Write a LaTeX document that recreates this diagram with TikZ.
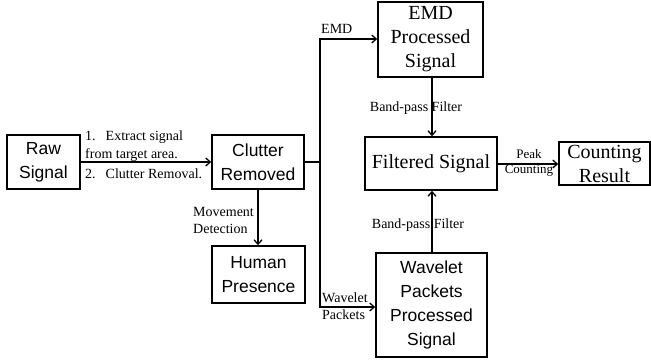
\documentclass[tikz,border=0pt]{standalone}
\usepackage{fontspec}
\setmainfont{Liberation Serif}
\newfontfamily\boxsans{Liberation Sans}
\usetikzlibrary{arrows.meta}
\tikzset{
  blk/.style={draw, line width=1.6pt, align=center, inner sep=0pt},
  sansblk/.style={blk, font=\boxsans\fontsize{17.5}{24}\selectfont},
  serifblk/.style={blk, font=\fontsize{20}{24}\selectfont},
  lbl/.style={inner sep=0pt, font=\fontsize{14}{16}\selectfont},
  smalllbl/.style={inner sep=0pt, font=\fontsize{13}{15}\selectfont},
  flow/.style={line width=1.5pt, -{Straight Barb[length=4.5pt,width=8pt,line width=1.3pt]}},
  wire/.style={line width=1.5pt}
}
\begin{document}
\begin{tikzpicture}[x=1pt,y=-1pt]
\useasboundingbox (0,0) rectangle (651,359);

% blocks
\node[sansblk, minimum width=73pt, minimum height=54pt] (raw) at (43.5,162) {Raw\\Signal};
\node[sansblk, minimum width=92pt, minimum height=54pt] (clutter) at (258,162) {Clutter\\Removed};
\node[serifblk, minimum width=105pt, minimum height=75pt] (emd) at (430.5,39.5) {EMD\\Processed\\Signal};
\node[serifblk, minimum width=132pt, minimum height=53pt] (filt) at (431,163.5) {Filtered Signal};
\node[serifblk, minimum width=91pt, minimum height=43pt] (count) at (604.5,163.5) {Counting\\Result};
\node[sansblk, minimum width=93pt, minimum height=57pt] (human) at (258.5,274.5) {Human\\Presence};
\node[sansblk, minimum width=111pt, minimum height=104pt] (wave) at (431.5,305) {Wavelet\\Packets\\Processed\\Signal};

% branch points of the trunk line
\coordinate (split) at (320,162);
\coordinate (topturn) at (320,39);
\coordinate (botturn) at (320,307);

% connectors
\draw[flow] (raw.east) -- (clutter.west);
\draw[wire] (clutter.east) -- (split);
\draw[flow] (split) -- (topturn) -- (emd.west |- topturn);
\draw[flow] (split) -- (botturn) -- (wave.west |- botturn);
\draw[flow] (emd.south -| 432,0) -- (filt.north -| 432,0);
\draw[flow] (wave.north -| 432,0) -- (filt.south -| 432,0);
\draw[flow] (filt.east |- 0,164) -- (count.west |- 0,164);
\draw[flow] (clutter.south -| 258,0) -- (human.north -| 258,0);

% connector labels
\node[lbl, anchor=base west] (s1) at (85,140) {1.\hspace{10pt}Extract signal};
\node[lbl, anchor=base west] (s1b) at (85,158) {from target area.};
\node[lbl, anchor=base west] (s2) at (85,178) {2.\hspace{10pt}Clutter Removal.};
\node[lbl, anchor=base west] (lemd) at (321,33) {EMD};
\node[lbl, anchor=base] (bp1) at (416,111) {Band-pass Filter};
\node[lbl, anchor=base] (bp2) at (418,228) {Band-pass Filter};
\node[smalllbl, anchor=base] (peak) at (529,158) {Peak};
\node[smalllbl, anchor=base] (pcount) at (529,173) {Counting};
\node[lbl, anchor=base west] (mv1) at (193,216) {Movement};
\node[lbl, anchor=base west] (mv2) at (193,233) {Detection};
\node[lbl, anchor=base west] (wp1) at (322,302) {Wavelet};
\node[lbl, anchor=base west] (wp2) at (322,319) {Packets};
\end{tikzpicture}
\end{document}
